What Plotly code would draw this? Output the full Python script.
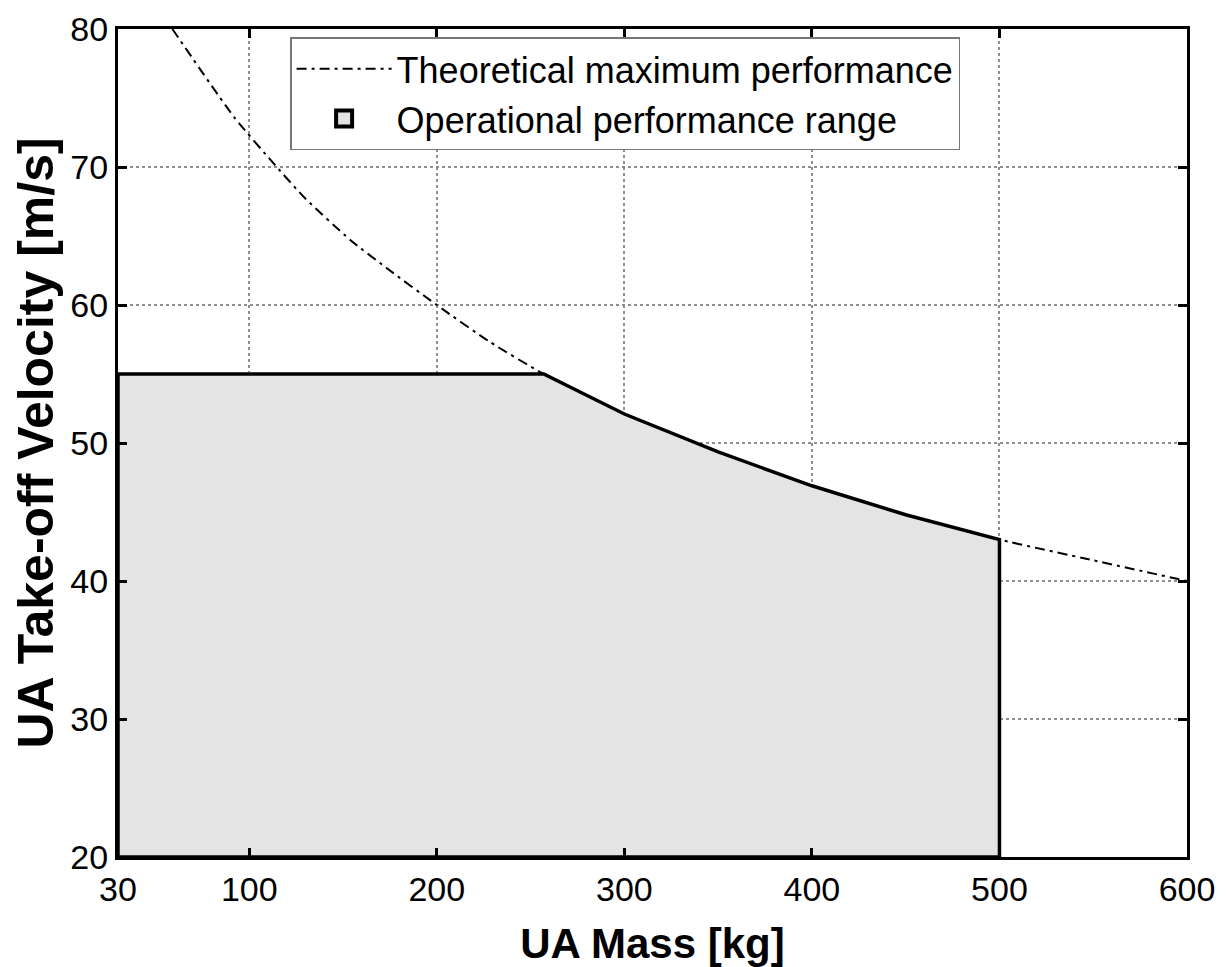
import plotly.graph_objects as go

# Theoretical maximum performance curve
theo_mass = [59, 92, 114, 130, 154, 173, 200, 228, 257, 300, 350, 400, 450, 500, 550, 600]
theo_vel = [80, 73.6, 70.1, 67.7, 64.7, 62.7, 60.0, 57.35, 55.0, 52.1, 49.35, 46.9, 44.8, 43.0, 41.5, 40.0]

# Operational performance range boundary
op_mass = [30, 30, 257, 300, 350, 400, 450, 500, 500, 30]
op_vel = [20, 55, 55, 52.1, 49.35, 46.9, 44.8, 43.0, 20, 20]

x_ticks = [30, 100, 200, 300, 400, 500, 600]
y_ticks = [20, 30, 40, 50, 60, 70, 80]

FONT = "Liberation Sans, Arial, sans-serif"
FILL = "#e4e4e4"

fig = go.Figure()
fig.add_trace(go.Scatter(
    x=theo_mass, y=theo_vel, mode="lines",
    line=dict(color="black", width=2, dash="10px,5px,3px,5px", shape="spline", smoothing=0.6),
    name="Theoretical maximum performance",
))
fig.add_trace(go.Scatter(
    x=op_mass, y=op_vel, mode="lines", fill="toself",
    fillcolor=FILL,
    line=dict(color="black", width=3.5),
    name="Operational performance range",
    showlegend=False,
))
# legend entry (box symbol) for the operational range
fig.add_trace(go.Scatter(
    x=[None], y=[None], mode="markers",
    marker=dict(symbol="square", size=16, color=FILL, line=dict(color="black", width=4)),
    name="Operational performance range",
))

axis_common = dict(
    showline=True, linecolor="black", linewidth=3, mirror="ticks",
    ticks="inside", ticklen=9, tickwidth=3, tickcolor="black",
    showgrid=True, gridcolor="#8f8f8f", gridwidth=1.5, griddash="dot",
    zeroline=False, automargin=False, ticklabeloverflow="allow",
    tickfont=dict(family=FONT, size=34, color="black"),
)

fig.update_layout(
    width=1215, height=959,
    paper_bgcolor="white", plot_bgcolor="white",
    margin=dict(l=110, r=36, t=21, b=110),
    font=dict(family=FONT, color="black"),
    xaxis=dict(
        range=[30, 600], tickvals=x_ticks, ticktext=[str(v) for v in x_ticks],
        title=dict(text="<b>UA Mass [kg]</b>", font=dict(family=FONT, size=42), standoff=26),
        **axis_common,
    ),
    yaxis=dict(
        range=[20, 80], tickvals=y_ticks, ticktext=[str(v) for v in y_ticks],
        title=dict(text="<b>UA Take-off Velocity [m/s]</b>", font=dict(family=FONT, size=50), standoff=4),
        **axis_common,
    ),
    legend=dict(
        x=0.161, y=0.99, xanchor="left", yanchor="top",
        bgcolor="white", bordercolor="#777777", borderwidth=1.5,
        font=dict(family=FONT, size=36, color="black"),
        itemwidth=95, tracegroupgap=0,
    ),
    showlegend=True,
)

fig.write_html("out.html")
